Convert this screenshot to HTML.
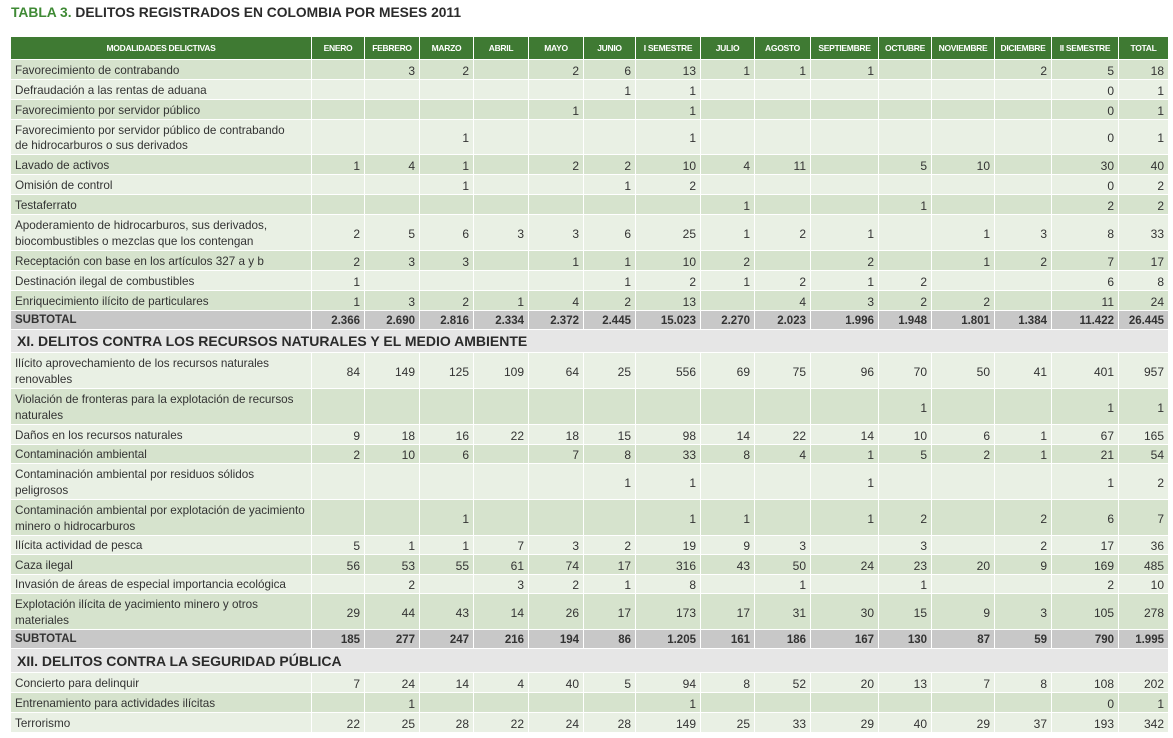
<!DOCTYPE html>
<html><head><meta charset="utf-8">
<style>
body{margin:0;width:1173px;height:738px;background:#fff;position:relative;overflow:hidden;font-family:"Liberation Sans",sans-serif;}
#title{position:absolute;left:11px;top:5px;font-size:13.8px;font-weight:bold;color:#2b2b2b;letter-spacing:0px}
#title span{color:#3f8a35}
.c{position:absolute;box-sizing:border-box;border-right:1px solid #fff;border-bottom:1px solid #fff;display:flex;align-items:center;font-size:12px;color:#333;overflow:hidden}
.num{justify-content:flex-end;padding-right:4px;padding-top:2px}
.nm{padding-left:4px;line-height:15.5px;white-space:pre;font-size:11.7px;padding-top:2px}
.hd{background:#3f7a33;color:#fff;font-weight:bold;font-size:8.5px;justify-content:center;text-align:center;letter-spacing:-0.3px}
.sec{background:#e6e6e6;font-weight:bold;font-size:14px;color:#2b2b2b;padding-left:6px}
.sub{background:#c8c8c8;font-weight:bold;font-size:11.5px}
.d{background:#d6e3cd}.l{background:#e9f0e4}
</style></head><body>
<div id="title"><span>TABLA 3.</span> DELITOS REGISTRADOS EN COLOMBIA POR MESES 2011</div>
<div id="tbl"></div>
<script>
const colEdges=[11,312,365,420,474,529,584,636,701,755,811,879,932,995,1052,1119,1169];
const headers=["MODALIDADES DELICTIVAS","ENERO","FEBRERO","MARZO","ABRIL","MAYO","JUNIO","I SEMESTRE","JULIO","AGOSTO","SEPTIEMBRE","OCTUBRE","NOVIEMBRE","DICIEMBRE","II SEMESTRE","TOTAL"];
const rows=[
["d",60,80,"Favorecimiento de contrabando",",3,2,,2,6,13,1,1,1,,,2,5,18"],
["l",80,100,"Defraudación a las rentas de aduana",",,,,,1,1,,,,,,,0,1"],
["d",100,120,"Favorecimiento por servidor público",",,,,1,,1,,,,,,,0,1"],
["l",120,155,"Favorecimiento por servidor público de contrabando\nde hidrocarburos o sus derivados",",,1,,,,1,,,,,,,0,1"],
["d",155,175,"Lavado de activos","1,4,1,,2,2,10,4,11,,5,10,,30,40"],
["l",175,195,"Omisión de control",",,1,,,1,2,,,,,,,0,2"],
["d",195,215,"Testaferrato",",,,,,,,1,,,1,,,2,2"],
["l",215,251,"Apoderamiento de hidrocarburos, sus derivados,\nbiocombustibles o mezclas que los contengan","2,5,6,3,3,6,25,1,2,1,,1,3,8,33"],
["d",251,271,"Receptación con base en los artículos 327 a y b","2,3,3,,1,1,10,2,,2,,1,2,7,17"],
["l",271,291,"Destinación ilegal de combustibles","1,,,,,1,2,1,2,1,2,,,6,8"],
["d",291,311,"Enriquecimiento ilícito de particulares","1,3,2,1,4,2,13,,4,3,2,2,,11,24"],
["sub",311,330,"SUBTOTAL","2.366,2.690,2.816,2.334,2.372,2.445,15.023,2.270,2.023,1.996,1.948,1.801,1.384,11.422,26.445"],
["sec",330,353,"XI. DELITOS CONTRA LOS RECURSOS NATURALES Y EL MEDIO AMBIENTE",""],
["l",353,389,"Ilícito aprovechamiento de los recursos naturales\nrenovables","84,149,125,109,64,25,556,69,75,96,70,50,41,401,957"],
["d",389,425,"Violación de fronteras para la explotación de recursos\nnaturales",",,,,,,,,,,1,,,1,1"],
["l",425,445,"Daños en los recursos naturales","9,18,16,22,18,15,98,14,22,14,10,6,1,67,165"],
["d",445,464,"Contaminación ambiental","2,10,6,,7,8,33,8,4,1,5,2,1,21,54"],
["l",464,500,"Contaminación ambiental por residuos sólidos\npeligrosos",",,,,,1,1,,,1,,,,1,2"],
["d",500,536,"Contaminación ambiental por explotación de yacimiento\nminero o hidrocarburos",",,1,,,,1,1,,1,2,,2,6,7"],
["l",536,555,"Ilícita actividad de pesca","5,1,1,7,3,2,19,9,3,,3,,2,17,36"],
["d",555,575,"Caza ilegal","56,53,55,61,74,17,316,43,50,24,23,20,9,169,485"],
["l",575,594,"Invasión de áreas de especial importancia ecológica",",2,,3,2,1,8,,1,,1,,,2,10"],
["d",594,630,"Explotación ilícita de yacimiento minero y otros\nmateriales","29,44,43,14,26,17,173,17,31,30,15,9,3,105,278"],
["sub",630,649,"SUBTOTAL","185,277,247,216,194,86,1.205,161,186,167,130,87,59,790,1.995"],
["sec",649,673,"XII. DELITOS CONTRA LA SEGURIDAD PÚBLICA",""],
["l",673,693,"Concierto para delinquir","7,24,14,4,40,5,94,8,52,20,13,7,8,108,202"],
["d",693,713,"Entrenamiento para actividades ilícitas",",1,,,,,1,,,,,,,0,1"],
["l",713,733,"Terrorismo","22,25,28,22,24,28,149,25,33,29,40,29,37,193,342"]
];
const tbl=document.getElementById('tbl');
function cell(cls,x0,x1,y0,y1,txt){
  const e=document.createElement('div');
  e.className='c '+cls;
  e.style.left=x0+'px';e.style.width=(x1-x0)+'px';
  e.style.top=y0+'px';e.style.height=(y1-y0)+'px';
  e.textContent=txt;
  tbl.appendChild(e);return e;
}
headers.forEach((h,i)=>{
  const e=cell('hd',colEdges[i],colEdges[i+1],37,60,h);
  
  
});
rows.forEach(r=>{
  const [t,y0,y1,label,vals]=r;
  if(t==='sec'){
    const e=cell('sec',colEdges[0],colEdges[colEdges.length-1],y0,y1,label);
    
    
    return;
  }
  const n=cell(t+' nm',colEdges[0],colEdges[1],y0,y1,label);
  
  
  vals.split(',').forEach((v,i)=>{
    const e=cell(t+' num',colEdges[i+1],colEdges[i+2],y0,y1,v);
    
    
  });
});
</script>
</body></html>
